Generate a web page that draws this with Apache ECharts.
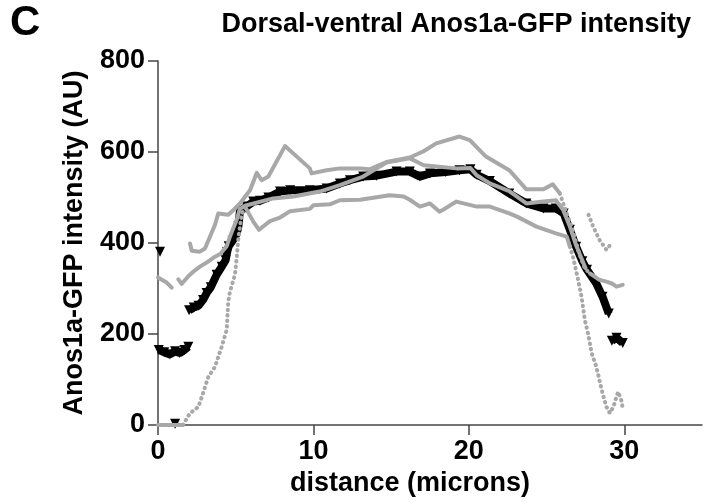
<!DOCTYPE html>
<html>
<head>
<meta charset="utf-8">
<script src="https://cdn.jsdelivr.net/npm/echarts@6/dist/echarts.min.js"></script>
<style>
  html, body { margin: 0; padding: 0; background: #fff; }
  #chart { width: 704px; height: 503px; }
</style>
</head>
<body>
<div id="chart"></div>
<script>
// tick labels
var xTicks = [0, 10, 20, 30]
var yTicks = [0, 200, 400, 600, 800]

// mean (black triangles), '-' breaks the line
var meanAU = [
  [0.13, 381], ['-', '-'],
  [0.05, 165], [0.4, 160], [0.77, 155], [1.1, 162], [1.4, 158], [1.7, 165], [1.95, 172], ['-', '-'],
  [1.1, 3], ['-', '-'],
  [2.0, 252], [2.3, 258], [2.6, 262], [2.9, 275], [3.13, 290], [3.4, 303], [3.77, 330], [4.1, 348],
  [4.35, 362], [4.45, 380], [4.55, 393], [4.8, 405], [5.06, 420], [5.17, 436], [5.27, 470], [5.7, 480],
  [6.13, 491], [6.56, 493], [7.1, 500], [7.85, 513], [8.5, 516], [9.77, 516], [10.85, 520], [11.7, 531],
  [12.35, 538], [13.2, 546], [14.06, 548], [15.35, 557], [16.2, 557], [16.85, 546], [17.5, 553],
  [18.5, 556], [19.4, 560], [20.1, 562], [20.5, 550], [21.35, 536], [22.6, 509], [23.7, 487],
  [24.8, 476], [25.6, 476], [26.1, 465], [26.5, 429], [26.9, 392], [27.3, 360], [27.6, 341],
  [28.2, 311], [28.6, 282], [29.0, 245], ['-', '-'],
  [29.2, 185], [29.5, 192], [29.9, 180]
]

// grey traces: solid parts and dotted (steep) parts
var traceA = [
  [2.06, 399], [2.17, 383], [2.7, 381], [3.02, 388], [3.67, 440], [3.88, 465], [4.52, 462], [4.84, 472],
  [5.27, 487], [5.92, 516], [6.35, 554], [6.67, 538], [7.1, 546], [8.17, 613], [9.77, 564], [9.88, 553],
  [10.85, 560], [11.7, 564], [13, 564], [13.6, 562], [14.7, 578], [16.2, 588], [17.06, 601], [17.9, 619],
  [19.4, 634], [20.06, 626], [21.1, 590], [22.6, 560], [23.7, 518], [24.8, 518], [25.4, 529], [25.85, 509],
  ['-', '-'],
  [27.8, 333], [28.1, 326], [28.4, 319], [28.85, 315], [29.2, 311], [29.5, 304], [29.9, 308]
]
var traceADots = [
  [25.85, 509], [26.3, 465], [26.6, 436], [26.8, 414], [27.1, 377], [27.46, 344], [27.8, 333]
]
var traceC = [
  [0, 324], [0.3, 318], [0.56, 313], [0.88, 302], ['-', '-'],
  [1.31, 320], [1.52, 310], [1.95, 327], [2.27, 337], [2.7, 348], [3.13, 357], [3.67, 370], [4.0, 376],
  [4.42, 393], [4.63, 414], [5.06, 451], [5.27, 475], [5.6, 482], [7.4, 498], [8.7, 502], [10.4, 513],
  [11.06, 520], [11.7, 527], [13.2, 546], [14.7, 577], [16.2, 586], [17.1, 571], [19.2, 564], [20.1, 565],
  [20.5, 549], [21.35, 531], [22.6, 514], [23.7, 487], [24.8, 491], [25.6, 494], [26.06, 473], [26.5, 436],
  [26.9, 395], [27.5, 345]
]
var traceCDots = [
  [27.7, 462], [28, 436], [28.4, 407], [28.85, 385], [29.1, 396]
]
var traceD = [
  [0, 0], [1.6, 0], ['-', '-'],
  [5.6, 480], [6.13, 447], [6.5, 429], [7.2, 448], [7.85, 456], [8.5, 470], [9.77, 475], [10, 483],
  [11.06, 485], [11.7, 494], [13, 495], [14.9, 505], [15.8, 502], [16.2, 495], [16.85, 480], [17.5, 487],
  [18.1, 469], [18.35, 473], [19, 487], [19.2, 491], [20.5, 480], [21.35, 480], [22.6, 465], [23.1, 458],
  [24.35, 436], [25.6, 421], [26.3, 414], [26.5, 392]
]
var traceDDots = [
  [1.6, 0], [2.06, 26], [2.6, 40], [2.9, 70], [3.24, 106], [3.67, 128], [3.88, 150], [4.1, 172],
  [4.42, 209], [4.52, 271], [4.63, 293], [4.95, 330], [5.06, 366], [5.17, 410], [5.38, 462], [5.6, 480],
  ['-', '-'],
  [26.5, 392], [26.7, 370], [27.03, 319], [27.25, 282], [27.46, 231], [27.67, 201], [27.9, 158], [28.2, 128],
  [28.4, 99], [28.6, 70], [28.85, 40], [29.07, 26], [29.3, 40], [29.6, 73], [29.8, 55], [29.9, 37]
]

var grey = '#a8a8a8'
var labelFont = { color: '#000', fontSize: 27, fontWeight: 'bold', fontFamily: 'Liberation Sans, Arial, sans-serif' }

function greyLine(data) {
  return {
    type: 'line', data: data, showSymbol: false, z: 3, silent: true,
    lineStyle: { color: grey, width: 4, join: 'round', cap: 'round' }
  }
}
function greyDots(data) {
  return {
    type: 'line', data: data, showSymbol: false, z: 3, silent: true,
    lineStyle: { color: grey, width: 4, type: [0.5, 5], cap: 'round' }
  }
}

var chart = echarts.init(document.getElementById('chart'))
chart.setOption({
  animation: false,
  title: {
    text: 'Dorsal-ventral Anos1a-GFP intensity',
    right: 8,
    top: 6,
    textStyle: { color: '#000', fontSize: 27, fontWeight: 'bold', fontFamily: 'Liberation Sans Narrow, Liberation Sans, sans-serif' }
  },
  graphic: [{
    type: 'text', left: 10, top: 2,
    style: { text: 'C', fill: '#000', font: 'bold 42px Liberation Sans, Arial, sans-serif' }
  }],
  grid: { left: 158, right: 2, top: 61, bottom: 78 },
  xAxis: {
    type: 'value', min: 0, max: 35,
    name: 'distance (microns)', nameLocation: 'middle', nameGap: 40,
    nameTextStyle: Object.assign({}, labelFont, { padding: [0, 40, 0, 0] }),
    axisLine: { lineStyle: { color: '#444', width: 1.5 } },
    axisTick: { customValues: xTicks, length: 10, lineStyle: { color: '#444', width: 1.5 } },
    axisLabel: Object.assign({ customValues: xTicks, margin: 13 }, labelFont),
    splitLine: { show: false }
  },
  yAxis: {
    type: 'value', min: 0, max: 800, interval: 200,
    name: 'Anos1a-GFP intensity (AU)', nameLocation: 'middle', nameGap: 70,
    nameTextStyle: labelFont,
    axisLine: { show: true, lineStyle: { color: '#444', width: 1.5 } },
    axisTick: { show: true, length: 10, lineStyle: { color: '#444', width: 1.5 } },
    axisLabel: Object.assign({ margin: 13 }, labelFont),
    splitLine: { show: false }
  },
  series: [
    {
      type: 'line', data: meanAU, z: 2, silent: true,
      showSymbol: true, showAllSymbol: true,
      symbol: 'triangle', symbolRotate: 180, symbolSize: 10,
      itemStyle: { color: '#000' },
      lineStyle: { color: '#000', width: 8 }
    },
    greyLine(traceA), greyDots(traceADots),
    greyLine(traceC), greyDots(traceCDots),
    greyLine(traceD), greyDots(traceDDots)
  ]
})
</script>
</body>
</html>
